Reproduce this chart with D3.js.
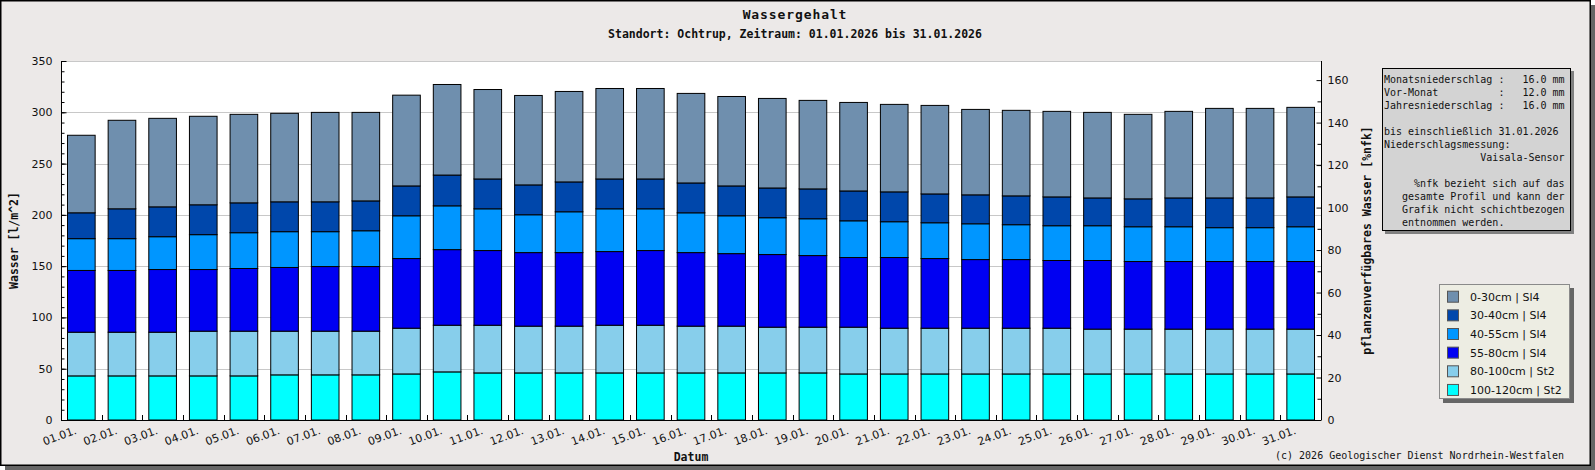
<!DOCTYPE html>
<html>
<head>
<meta charset="utf-8">
<script src="https://cdn.jsdelivr.net/npm/d3@7"></script>
<style>
  body { margin: 0; background: #fff; }
  text { fill: #111; }
  .mono { font-family: "DejaVu Sans Mono", monospace; }
  .sans { font-family: "DejaVu Sans", sans-serif; }
</style>
</head>
<body>
<div id="chart"></div>
<script>
// values (l/m^2 per layer and day)
var days = ["01.01.","02.01.","03.01.","04.01.","05.01.","06.01.","07.01.","08.01.","09.01.","10.01.",
            "11.01.","12.01.","13.01.","14.01.","15.01.","16.01.","17.01.","18.01.","19.01.","20.01.",
            "21.01.","22.01.","23.01.","24.01.","25.01.","26.01.","27.01.","28.01.","29.01.","30.01.","31.01."];

var layerNames = ["0-30cm | Sl4", "30-40cm | Sl4", "40-55cm | Sl4", "55-80cm | Sl4", "80-100cm | St2", "100-120cm | St2"];

var w0_30    = [75.6,86.3,86.3,86.3,86.3,86.3,87.2,86.3,88.5,88.3,87.2,87.2,88.2,88.2,88.2,87.3,87.2,87.3,86.3,86.3,85.3,86.3,83.3,83.4,83.4,83.4,82.4,84.4,87.3,87.3,87.3];
var w30_40   = [25.2,29.1,29.1,29.1,29.1,29.1,29.1,29.1,29.1,30.0,29.1,29.1,29.1,29.1,29.1,29.1,29.1,29.0,29.1,29.1,29.1,28.1,28.2,28.1,28.1,27.1,27.2,28.1,29.0,29.0,29.1];
var w40_55   = [31.0,31.0,32.0,34.0,34.9,34.9,34.0,34.9,41.7,42.7,40.7,36.9,39.8,41.7,40.7,38.8,36.9,35.9,35.9,35.8,34.9,34.9,34.9,34.0,33.9,33.9,33.9,33.9,33.0,33.0,33.9];
var w55_80   = [60.2,60.2,61.1,60.1,61.1,62.1,63.0,63.0,67.9,73.7,72.8,71.7,71.7,71.8,72.8,71.7,70.7,70.8,69.8,67.9,68.9,67.9,66.9,66.9,66.0,66.9,65.9,65.9,65.9,65.9,65.9];
var w80_100  = [42.6,42.6,42.6,43.6,43.6,42.6,42.6,42.6,44.6,45.5,46.5,45.6,45.6,46.5,46.5,45.6,45.6,44.6,44.6,45.6,44.6,44.6,44.6,44.6,44.6,43.7,43.7,43.7,43.7,43.7,43.7];
var w100_120 = [43.0,43.0,43.0,43.0,43.0,44.0,44.0,44.0,44.9,46.9,45.9,45.9,45.9,45.9,45.9,45.9,45.9,45.9,45.9,44.9,44.9,44.9,44.9,44.9,44.9,44.9,44.9,44.9,44.9,44.9,44.9];

var layerColors = ["#6f8fae", "#0047ab", "#0096ff", "#0000f2", "#87ceeb", "#00ffff"];

var infoLines = [
  "Monatsniederschlag :   16.0 mm",
  "Vor-Monat          :   12.0 mm",
  "Jahresniederschlag :   16.0 mm",
  "",
  "bis einschließlich 31.01.2026",
  "Niederschlagsmessung:",
  "                Vaisala-Sensor",
  "",
  "     %nfk bezieht sich auf das",
  "   gesamte Profil und kann der",
  "   Grafik nicht schichtbezogen",
  "   entnommen werden."
];

var W = 1595, H = 470;
var plot = {left: 61, right: 1321, top: 61, bottom: 420};

var svg = d3.select("#chart").append("svg")
  .attr("width", W).attr("height", H);

// frame with shadow
svg.append("rect").attr("x", 5).attr("y", 5).attr("width", W - 5).attr("height", H - 5).attr("fill", "#666");
svg.append("rect").attr("x", 0.75).attr("y", 0.75).attr("width", 1589.5).attr("height", 464.5)
  .attr("fill", "#ece9e8").attr("stroke", "#000").attr("stroke-width", 1.5);

// titles
svg.append("text").attr("class", "mono").attr("x", 795).attr("y", 18.5)
  .attr("text-anchor", "middle").attr("font-weight", "bold").attr("font-size", "13px")
  .attr("letter-spacing", "0.9px").text("Wassergehalt");
svg.append("text").attr("class", "mono").attr("x", 795).attr("y", 37.5)
  .attr("text-anchor", "middle").attr("font-weight", "bold").attr("font-size", "11.5px")
  .text("Standort: Ochtrup, Zeitraum: 01.01.2026 bis 31.01.2026");

// scales
var x = d3.scaleBand().domain(days).range([plot.left, plot.right])
  .paddingInner(0.32).paddingOuter(0.16);
var y = d3.scaleLinear().domain([0, 350]).range([plot.bottom, plot.top]);
var y2 = d3.scaleLinear().domain([0, 169]).range([plot.bottom, plot.top]);

svg.append("rect").attr("x", plot.left).attr("y", plot.top)
  .attr("width", plot.right - plot.left).attr("height", plot.bottom - plot.top).attr("fill", "#fff");

// gridlines
svg.append("g").selectAll("line").data(d3.range(50, 351, 50)).join("line")
  .attr("x1", plot.left).attr("x2", plot.right)
  .attr("y1", function(d) { return Math.round(y(d)) + 0.5; })
  .attr("y2", function(d) { return Math.round(y(d)) + 0.5; })
  .attr("stroke", "#c8c8c8").attr("stroke-width", 1);

// stacked bars
var table = days.map(function(d, i) {
  return {day: d, l0: w0_30[i], l1: w30_40[i], l2: w40_55[i], l3: w55_80[i], l4: w80_100[i], l5: w100_120[i]};
});
var keys = ["l5", "l4", "l3", "l2", "l1", "l0"];
var colorOf = {l0: layerColors[0], l1: layerColors[1], l2: layerColors[2], l3: layerColors[3], l4: layerColors[4], l5: layerColors[5]};
var stacked = d3.stack().keys(keys)(table);

svg.append("g").selectAll("g").data(stacked).join("g")
  .attr("fill", function(s) { return colorOf[s.key]; })
  .selectAll("rect").data(function(s) { return s; }).join("rect")
  .attr("x", function(d) { return x(d.data.day); })
  .attr("y", function(d) { return y(d[1]); })
  .attr("width", x.bandwidth())
  .attr("height", function(d) { return y(d[0]) - y(d[1]); })
  .attr("stroke", "#000").attr("stroke-width", 1);

// left axis (ticks inside)
var gl = svg.append("g").attr("transform", "translate(" + (plot.left + 0.5) + ",0)")
  .call(d3.axisLeft(y).tickValues(d3.range(0, 351, 50)).tickSize(-5).tickPadding(9));
svg.append("g").attr("transform", "translate(" + (plot.left + 0.5) + ",0)")
  .call(d3.axisLeft(y).tickValues(d3.range(0, 351, 10)).tickSize(-3).tickFormat(""))
  .select(".domain").remove();

// right axis
var gr = svg.append("g").attr("transform", "translate(" + (plot.right + 0.5) + ",0)")
  .call(d3.axisRight(y2).tickValues(d3.range(0, 161, 20)).tickSize(-5).tickPadding(6));
svg.append("g").attr("transform", "translate(" + (plot.right + 0.5) + ",0)")
  .call(d3.axisRight(y2).tickValues(d3.range(10, 161, 20)).tickSize(-4).tickFormat(""))
  .select(".domain").remove();

// bottom axis with rotated labels
var gb = svg.append("g").attr("transform", "translate(0," + (plot.bottom + 0.5) + ")")
  .call(d3.axisBottom(x).tickSize(0));
gb.selectAll(".tick text")
  .attr("x", 0).attr("y", 0).attr("dy", 0)
  .attr("text-anchor", "end")
  .attr("transform", "translate(-4,13) rotate(-20)");
// boundary ticks between days
var stepHalf = x.step() * 0.5;
svg.append("g").selectAll("line").data(days.slice(1)).join("line")
  .attr("x1", function(d) { return Math.round(x(d) + x.bandwidth() / 2 - stepHalf) + 0.5; })
  .attr("x2", function(d) { return Math.round(x(d) + x.bandwidth() / 2 - stepHalf) + 0.5; })
  .attr("y1", plot.bottom).attr("y2", plot.bottom - 5)
  .attr("stroke", "#000");

[gl, gr, gb].forEach(function(g) {
  g.attr("font-family", "DejaVu Sans").attr("font-size", "11px");
  g.selectAll(".domain").attr("stroke", "#000");
  g.selectAll("text").attr("fill", "#111");
});
gb.select(".domain").attr("d", "M" + plot.left + ",0H" + plot.right);
gl.select(".domain").attr("d", "M0," + plot.top + "V" + plot.bottom);
gr.select(".domain").attr("d", "M0," + plot.top + "V" + plot.bottom);

// axis titles
svg.append("text").attr("class", "mono").attr("font-weight", "bold").attr("font-size", "11.5px")
  .attr("text-anchor", "middle")
  .attr("transform", "translate(18," + ((plot.top + plot.bottom) / 2) + ") rotate(-90)")
  .text("Wasser [l/m^2]");
svg.append("text").attr("class", "mono").attr("font-weight", "bold").attr("font-size", "11.5px")
  .attr("text-anchor", "middle")
  .attr("transform", "translate(1371," + ((plot.top + plot.bottom) / 2) + ") rotate(-90)")
  .text("pflanzenverfügbares Wasser [%nfk]");
svg.append("text").attr("class", "mono").attr("font-weight", "bold").attr("font-size", "11.5px")
  .attr("text-anchor", "middle").attr("x", (plot.left + plot.right) / 2).attr("y", 461)
  .text("Datum");

// info box
svg.append("rect").attr("x", 1385).attr("y", 71).attr("width", 189).attr("height", 163).attr("fill", "#808080");
svg.append("rect").attr("x", 1382.5).attr("y", 68.5).attr("width", 188).attr("height", 162)
  .attr("fill", "#d3d3d3").attr("stroke", "#000");
svg.append("g").selectAll("text").data(infoLines).join("text")
  .attr("class", "mono").attr("font-size", "10px")
  .attr("xml:space", "preserve").style("white-space", "pre")
  .attr("x", 1384).attr("y", function(d, i) { return 82.7 + i * 13; })
  .text(function(d) { return d; });

// legend
svg.append("rect").attr("x", 1443).attr("y", 288).attr("width", 131).attr("height", 115).attr("fill", "#666");
svg.append("rect").attr("x", 1439.5).attr("y", 284.5).attr("width", 130).attr("height", 114)
  .attr("fill", "#ededE3").attr("stroke", "#8a8a8a");
var leg = svg.append("g").selectAll("g").data(layerNames).join("g")
  .attr("transform", function(d, i) { return "translate(1447," + (296.7 + i * 18.65) + ")"; });
leg.append("rect").attr("x", 0.5).attr("y", -5.5).attr("width", 11).attr("height", 11)
  .attr("fill", function(d, i) { return layerColors[i]; }).attr("stroke", "#555");
leg.append("text").attr("class", "sans").attr("font-size", "11px")
  .attr("x", 23).attr("dy", "0.36em").text(function(d) { return d; });

// copyright
svg.append("text").attr("class", "mono").attr("font-size", "10px")
  .attr("x", 1275).attr("y", 459)
  .text("(c) 2026 Geologischer Dienst Nordrhein-Westfalen");
</script>
</body>
</html>
